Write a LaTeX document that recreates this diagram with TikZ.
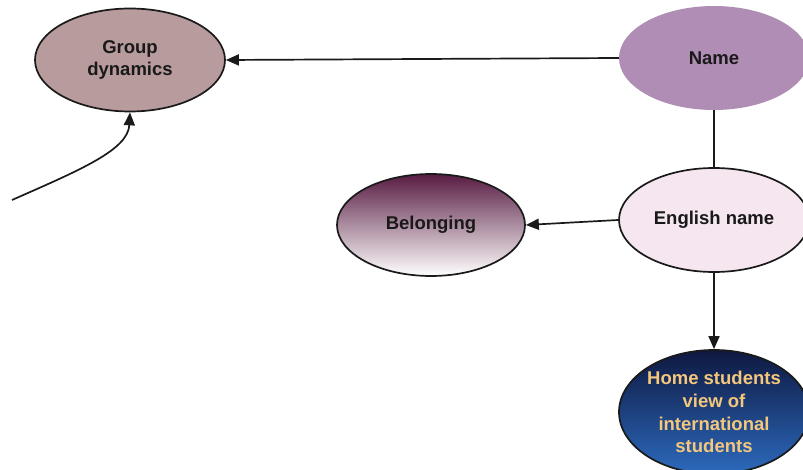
\documentclass[tikz,border=0pt]{standalone}
\usepackage{fontspec}
\setmainfont{Liberation Sans}
\usetikzlibrary{shapes.geometric,arrows.meta}
\definecolor{gdfill}{HTML}{B89B9C}
\definecolor{namefill}{HTML}{B08DB4}
\definecolor{engfill}{HTML}{F6E6F0}
\definecolor{beltop}{HTML}{581C42}
\definecolor{hometop}{HTML}{0E1840}
\definecolor{homebot}{HTML}{2D6ABD}
\definecolor{hometext}{HTML}{F4C77C}
\definecolor{edge}{HTML}{1A1A1A}
\tikzset{
  topic/.style={ellipse, inner sep=0pt, align=center,
    font=\fontsize{18.5}{22.8}\selectfont\bfseries, text=black!90},
  outlined/.style={draw=edge, line width=1.7pt},
  link/.style={draw=edge, line width=1.7pt},
  arrowlink/.style={link, -{Triangle[length=13pt,width=11pt]}},
}
\begin{document}
\begin{tikzpicture}[x=1pt,y=-1pt]
  \useasboundingbox (0,0) rectangle (803,470);

  % concept nodes
  \node[topic, outlined, fill=gdfill, minimum width=190pt, minimum height=103pt]
    (gd) at (130,60) {Group\\dynamics};
  \node[topic, fill=namefill, minimum width=190pt, minimum height=104pt]
    (name) at (714,58) {Name};
  \node[topic, outlined, fill=engfill, minimum width=190pt, minimum height=104pt]
    (eng) at (714,220) {English name};
  \node[topic, outlined, top color=beltop, bottom color=white,
        minimum width=188pt, minimum height=102pt]
    (bel) at (431,225) {Belonging};
  \node[topic, outlined, top color=hometop, bottom color=homebot, text=hometext,
        minimum width=190pt, minimum height=124pt]
    (home) at (714,412) {Home students\\view of\\international\\students};

  % free end of the incoming curve
  \coordinate (src) at (12,200);

  % connectors
  \draw[arrowlink] (name.west) -- (gd.east);
  \draw[link] (name.south) -- (eng.north);
  \draw[arrowlink] (eng.west) -- (bel.east);
  \draw[arrowlink] (eng.south) -- (home.north);
  \draw[arrowlink] (src) .. controls (80,170) and (128,150) .. (gd.south);
\end{tikzpicture}
\end{document}
